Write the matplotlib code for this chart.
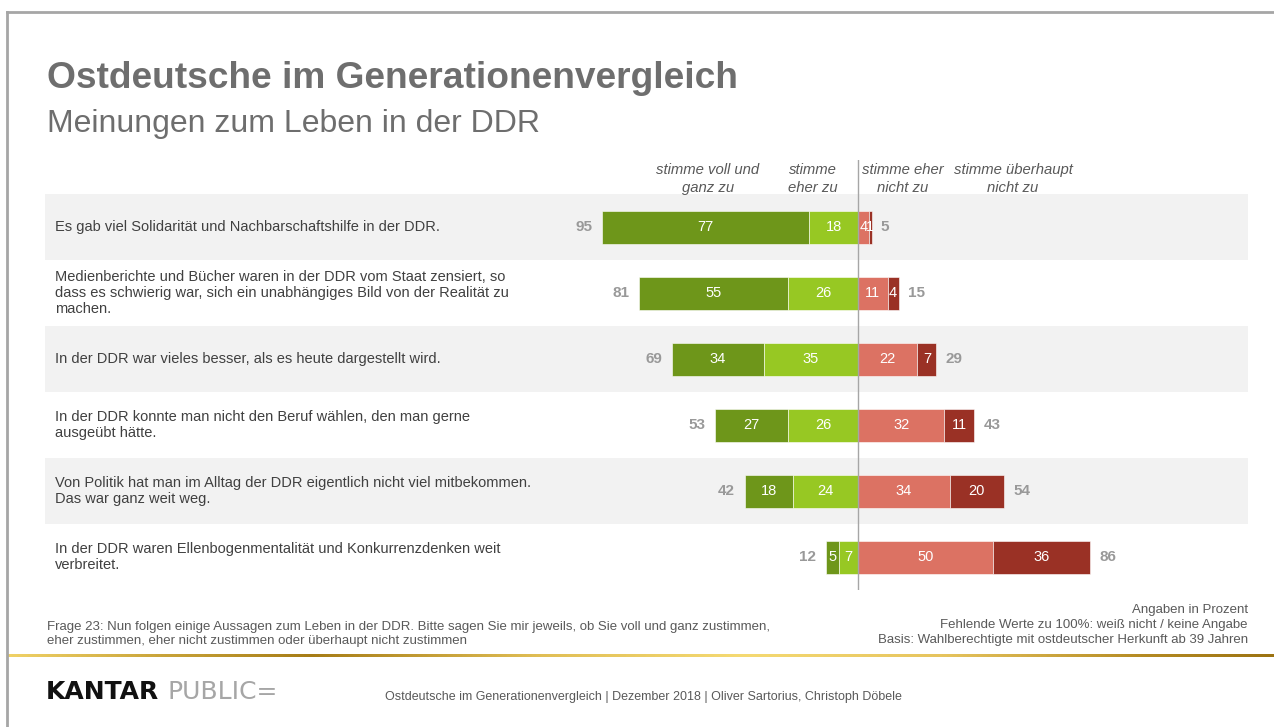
import matplotlib.pyplot as plt
import numpy as np
from matplotlib.colors import LinearSegmentedColormap

plt.rcParams['font.family'] = ['Liberation Sans', 'DejaVu Sans']

# Daten
aussagen = [
    "Es gab viel Solidarität und Nachbarschaftshilfe in der DDR.",
    "Medienberichte und Bücher waren in der DDR vom Staat zensiert, so\n"
    "dass es schwierig war, sich ein unabhängiges Bild von der Realität zu\nmachen.",
    "In der DDR war vieles besser, als es heute dargestellt wird.",
    "In der DDR konnte man nicht den Beruf wählen, den man gerne\nausgeübt hätte.",
    "Von Politik hat man im Alltag der DDR eigentlich nicht viel mitbekommen.\n"
    "Das war ganz weit weg.",
    "In der DDR waren Ellenbogenmentalität und Konkurrenzdenken weit\nverbreitet.",
]
voll_ganz = [77, 55, 34, 27, 18, 5]
eher_zu = [18, 26, 35, 26, 24, 7]
eher_nicht = [4, 11, 22, 32, 34, 50]
gar_nicht = [1, 4, 7, 11, 20, 36]
summe_zu = [95, 81, 69, 53, 42, 12]
summe_nicht = [5, 15, 29, 43, 54, 86]
spalten = ["stimme voll und\nganz zu", "stimme\neher zu",
           "stimme eher\nnicht zu", "stimme überhaupt\nnicht zu"]

C_VOLL = '#6E961A'
C_EHER = '#97C823'
C_EHER_N = '#DC7263'
C_GAR_N = '#9A3125'
GRAU_TXT = '#404040'
GRAU_SUM = '#999999'

W, H = 1274, 727
fig = plt.figure(figsize=(W / 100, H / 100), dpi=100)


def fx(px):
    return px / W


def fy(py):
    return 1 - py / H


# Rahmen
fig.add_artist(plt.Line2D([fx(7), 1], [fy(12), fy(12)], color='#a6a6a6', lw=2))
fig.add_artist(plt.Line2D([fx(7), fx(7)], [fy(12), 0], color='#a6a6a6', lw=2))

# Titel
fig.text(fx(47), fy(79), "Ostdeutsche im Generationenvergleich", fontsize=26.7,
         weight='bold', color='#6e6e6e', va='center')
fig.text(fx(47), fy(124), "Meinungen zum Leben in der DDR", fontsize=23,
         color='#6e6e6e', va='center')

# Diagramm
px_per_unit = 2.7
x0 = 858
ax = fig.add_axes([fx(45), fy(590), (1248 - 45) / W, (590 - 160) / H])
ax.set_xlim((45 - x0) / px_per_unit, (1248 - x0) / px_per_unit)
ax.set_ylim((590 - 227) / 66, (160 - 227) / 66)
ax.axis('off')

n = len(aussagen)
y = np.arange(n)
for i in range(0, n, 2):
    ax.axhspan(i - 0.5, i + 0.5, color='#f2f2f2', zorder=0, lw=0)
ax.axvline(0, color='#a6a6a6', lw=1, zorder=3)

vz = np.array(voll_ganz)
ez = np.array(eher_zu)
en = np.array(eher_nicht)
gn = np.array(gar_nicht)
h = 0.5
kw = dict(height=h, edgecolor='white', linewidth=0.4, zorder=2)
ax.barh(y, vz, left=-(vz + ez), color=C_VOLL, **kw)
ax.barh(y, ez, left=-ez, color=C_EHER, **kw)
ax.barh(y, en, left=0, color=C_EHER_N, **kw)
ax.barh(y, gn, left=en, color=C_GAR_N, **kw)

for i in range(n):
    segs = [(-(vz[i] + ez[i]) + vz[i] / 2, vz[i]), (-ez[i] / 2, ez[i]),
            (en[i] / 2, en[i]), (en[i] + gn[i] / 2, gn[i])]
    for xc, v in segs:
        ax.text(xc, i, str(v), color='white', fontsize=10.5, ha='center',
                va='center', zorder=4)
    ax.text(-(vz[i] + ez[i]) - 3.5, i, str(summe_zu[i]), color=GRAU_SUM,
            fontsize=11, weight='bold', ha='right', va='center')
    ax.text(en[i] + gn[i] + 3.5, i, str(summe_nicht[i]), color=GRAU_SUM,
            fontsize=11, weight='bold', ha='left', va='center')
    ax.text((55 - 45) / px_per_unit + ax.get_xlim()[0], i, aussagen[i],
            color=GRAU_TXT, fontsize=10.5, ha='left', va='center',
            linespacing=1.15)

# Spaltenköpfe
for px, s in zip([708, 813, 903, 1013], spalten):
    fig.text(fx(px), fy(179), s, fontsize=10.7, style='italic', color='#595959',
             ha='center', va='center', linespacing=1.3)

# Fussnoten
fig.text(fx(47), fy(634), "Frage 23: Nun folgen einige Aussagen zum Leben in der DDR. "
         "Bitte sagen Sie mir jeweils, ob Sie voll und ganz zustimmen,\n"
         "eher zustimmen, eher nicht zustimmen oder überhaupt nicht zustimmen",
         fontsize=9.5, color='#595959', va='center', linespacing=1.28)
fig.text(fx(1248), fy(625), "Angaben in Prozent\nFehlende Werte zu 100%: weiß nicht / keine Angabe\n"
         "Basis: Wahlberechtigte mit ostdeutscher Herkunft ab 39 Jahren",
         fontsize=9.5, color='#595959', va='center', ha='right', linespacing=1.33)

# Goldlinie
gold = LinearSegmentedColormap.from_list('gold', [
    (0.0, '#F0D267'), (0.12, '#C9A43A'), (0.24, '#A67C16'), (0.42, '#E0BE55'),
    (0.58, '#F5DA73'), (0.74, '#E6C45E'), (0.9, '#B48A22'), (1.0, '#9C7312')])
lax = fig.add_axes([fx(7), fy(657), 1 - fx(7), 3 / H])
lax.imshow(np.linspace(0, 1, 512)[None, :], aspect='auto', cmap=gold)
lax.axis('off')

# Logo und Fusszeile
fig.text(fx(46), fy(692), "KANTAR", fontsize=18, weight='bold', color='#111111',
         va='center', family='DejaVu Sans')
fig.text(fx(167), fy(692), "PUBLIC=", fontsize=18, color='#a6a6a6', va='center',
         family='DejaVu Sans')
fig.text(fx(385), fy(697), "Ostdeutsche im Generationenvergleich | Dezember 2018 | "
         "Oliver Sartorius, Christoph Döbele", fontsize=9, color='#595959',
         va='center')

fig.savefig('out.png', dpi=100)
